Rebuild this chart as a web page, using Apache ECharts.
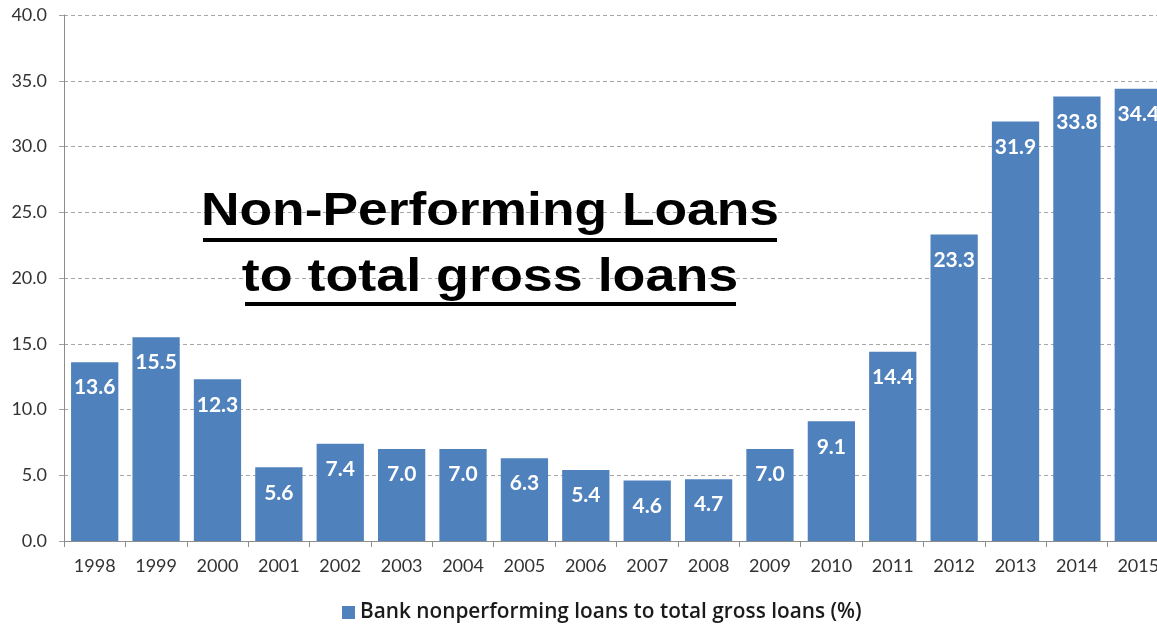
<!DOCTYPE html>
<html>
<head>
<meta charset="utf-8">
<script src="https://cdn.jsdelivr.net/npm/echarts@6/dist/echarts.min.js"></script>
<style>
html,body{margin:0;padding:0;overflow:hidden;background:#fff;}
#c{width:1170px;height:625px;}
</style>
</head>
<body>
<div id="c"></div>
<script>
var years = ['1998','1999','2000','2001','2002','2003','2004','2005','2006','2007','2008','2009','2010','2011','2012','2013','2014','2015'];
var npl = [13.6,15.5,12.3,5.6,7.4,7.0,7.0,6.3,5.4,4.6,4.7,7.0,9.1,14.4,23.3,31.9,33.8,34.4];
var seriesName = 'Bank nonperforming loans to total gross loans (%)';
var titleLines = ['Non-Performing Loans','to total gross loans'];

var chart = echarts.init(document.getElementById('c'));
chart.setOption({
  animation:false,
  backgroundColor:'#fff',
  grid:{left:64,right:1,top:15,bottom:84,containLabel:false},
  legend:{
    left:337, top:597, itemWidth:13, itemHeight:13, itemGap:8,
    icon:'rect',
    textStyle:{fontFamily:'Open Sans',fontSize:20.8,color:'#1a1a1a',fontWeight:600},
    data:[seriesName]
  },
  xAxis:{
    type:'category', data:years,
    axisLine:{lineStyle:{color:'#8c8c8c',width:1}},
    axisTick:{show:true,interval:0,alignWithLabel:false,length:6,lineStyle:{color:'#8c8c8c'}},
    axisLabel:{fontFamily:'Lato',fontSize:18,color:'#333',margin:16,interval:0}
  },
  yAxis:{
    type:'value', min:0, max:40, interval:5,
    axisLine:{show:true,lineStyle:{color:'#8c8c8c',width:1}},
    axisTick:{show:true,length:5,lineStyle:{color:'#a0a0a0'}},
    axisLabel:{fontFamily:'Lato',fontSize:18,color:'#333',margin:17,formatter:function(v){return v.toFixed(1);}},
    splitLine:{show:true,lineStyle:{color:'#a6a6a6',type:[4,3],width:1}}
  },
  series:[{
    name:seriesName, type:'bar', data:npl,
    barCategoryGap:'23%',
    itemStyle:{color:'#4f81bd'},
    label:{show:true,position:'insideTop',distance:15,color:'#fff',fontFamily:'Lato',fontWeight:'bold',fontSize:21,
      formatter:function(p){return p.value.toFixed(1);}}
  }],
  graphic:[
    {type:'text',x:490,y:212,scaleX:1.16,z:100,style:{text:titleLines[0],fill:'#000',font:'bold 46px "Liberation Sans", Arial, sans-serif',align:'center',verticalAlign:'middle'}},
    {type:'text',x:490,y:278,scaleX:1.17,z:100,style:{text:titleLines[1],fill:'#000',font:'bold 46px "Liberation Sans", Arial, sans-serif',align:'center',verticalAlign:'middle'}},
    {type:'rect',z:100,shape:{x:203,y:238,width:574,height:4},style:{fill:'#000'}},
    {type:'rect',z:100,shape:{x:245,y:302,width:491,height:4},style:{fill:'#000'}}
  ]
});
</script>
</body>
</html>
